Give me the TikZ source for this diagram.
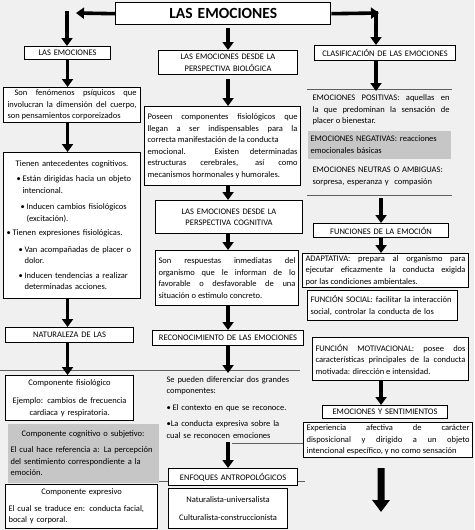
\documentclass[tikz,border=0pt]{standalone}
\usepackage{fontspec}
\setmainfont{Carlito}
\usepackage{tikz}
\usetikzlibrary{arrows.meta,positioning,calc}
\definecolor{pagegrey}{RGB}{240,240,240}
\definecolor{shadegrey}{RGB}{198,198,198}
\definecolor{rulegrey}{RGB}{95,95,95}
\newcommand{\boxfont}{\fontsize{8.5}{11.5}\selectfont}
\newcommand{\bul}{\makebox[6pt][l]{\textbullet}}

\begin{document}
\begin{tikzpicture}[
x=1pt,y=-1pt,
box/.style={draw,line width=1.1pt,fill=white,anchor=north west,inner xsep=3pt,inner ysep=1pt,font=\boxfont},
titlebox/.style={box,line width=1.4pt,align=center,font=\fontsize{15.5}{18}\selectfont\bfseries},
label/.style={box,align=center},
txt/.style={box,align=justify},
list/.style={box,align=left},
shade/.style={list,draw=none,fill=shadegrey},
bare/.style={list,draw=none,fill=none},
rule/.style={draw=rulegrey,line width=1pt},
arr/.style={-{Triangle[width=11pt,length=8pt]},line width=3.6pt},
bigarr/.style={-{Triangle[width=17pt,length=12pt]},line width=7pt}
]
\fill[pagegrey] (0,0) rectangle (474,530);
\useasboundingbox (0,0) rectangle (474,530);

% separator lines
\draw[rule] (0,370) -- (300,370);
\draw[rule] (307,89) -- (452,89);
\draw[rule] (307,195) -- (452,195);
\draw[rule] (232,443) -- (305,443);
\draw[rule] (158,481) -- (305,481);

% title
\node[titlebox,text width=209pt,minimum height=22pt] (title) at (115,2) {LAS EMOCIONES};
\coordinate (ltip) at (76,13);
\coordinate (rtip) at (379,13);
\coordinate (ltop) at (67,11);
\coordinate (rtop) at (376,11);

% left column
\node[label,text width=80pt,minimum height=13pt] (lasemo) at (24,46) {LAS EMOCIONES};
\node[txt,inner xsep=4pt,text width=129pt,minimum height=35pt] (fenom) at (3,87)
  {\hspace*{7pt}Son fenómenos psíquicos que\linebreak involucran la dimensión del cuerpo,\linebreak son pensamientos corporeizados};
\node[list,text width=131pt,minimum height=146pt] (antec) at (3,152)
  {\makebox[131pt]{Tienen antecedentes cognitivos.}\\[3.5pt]
   \hspace*{10pt}\bul Están dirigidas hacia un objeto\\
   \hspace*{16pt}intencional.\\[5pt]
   \hspace*{14pt}\bul Inducen cambios fisiológicos\\
   \hspace*{20pt}(excitación).\\[3pt]
   \bul Tienen expresiones fisiológicas.\\[5pt]
   \hspace*{12pt}\bul Van acompañadas de placer o\\
   \hspace*{18pt}dolor.\\[3pt]
   \hspace*{12pt}\bul Inducen tendencias a realizar\\
   \hspace*{18pt}determinadas acciones.};
\node[label,text width=122pt,minimum height=15pt] (natur) at (5,327) {NATURALEZA DE LAS};
\node[label,text width=122pt,minimum height=45pt] (fisio) at (5,375)
  {Componente fisiológico\\[7pt]Ejemplo: cambios de frecuencia\\cardiaca y respiratoria.};
\node[shade,text width=145pt,minimum height=59pt] (cogn) at (7,423)
  {\makebox[145pt]{Componente cognitivo o subjetivo:}\\[5pt]El cual hace referencia a: La percepción\\del sentimiento correspondiente a la\\emoción.};
\node[list,text width=146pt,minimum height=44pt] (expres) at (5,484)
  {\makebox[146pt]{Componente expresivo}\\[5pt]El cual se traduce en: conducta facial,\\bocal y corporal.};

% middle column
\node[label,text width=133pt,minimum height=24pt] (bio) at (158,50) {LAS EMOCIONES DESDE LA\\PERSPECTIVA BIOLÓGICA};
\node[txt,text width=150pt,minimum height=79pt] (poseen) at (144,106)
  {Poseen componentes fisiológicos que\linebreak llegan a ser indispensables para la\linebreak correcta manifestación de la conducta\newline emocional. Existen determinadas\linebreak estructuras cerebrales, así como\linebreak mecanismos hormonales y humorales.};
\node[label,text width=141pt,minimum height=33pt] (cognpers) at (155,200) {LAS EMOCIONES DESDE LA\\PERSPECTIVA COGNITIVA};
\node[txt,text width=137pt,minimum height=55pt] (resp) at (155,250)
  {Son respuestas inmediatas del\linebreak organismo que le informan de lo\linebreak favorable o desfavorable de una\linebreak situación o estimulo concreto.};
\node[label,text width=145pt,minimum height=15pt] (recon) at (152,330) {RECONOCIMIENTO DE LAS EMOCIONES};
\node[bare,text width=134pt,minimum height=68pt] (dosc) at (163,373)
  {Se pueden diferenciar dos grandes\\componentes:\\[5pt]
   \bul El contexto en que se reconoce.\\[5pt]
   \textbullet La conducta expresiva sobre la\\cual se reconocen emociones};
\node[label,text width=123pt,minimum height=17pt] (enfo) at (168,468) {ENFOQUES ANTROPOLÓGICOS};
\node[label,text width=113pt,minimum height=40pt] (natcul) at (168,488)
  {Naturalista-universalista\\[6pt]Culturalista-construccionista};

% right column
\node[label,text width=135pt,minimum height=15pt] (clasif) at (314,45) {CLASIFICACIÓN DE LAS EMOCIONES};
\node[txt,draw=none,fill=none,text width=137pt,minimum height=37pt] (pos) at (309,91)
  {EMOCIONES POSITIVAS: aquellas en\linebreak la que predominan la sensación de\linebreak placer o bienestar.};
\node[shade,text width=137pt,minimum height=28pt] (neg) at (307,130)
  {EMOCIONES NEGATIVAS: reacciones\\emocionales básicas};
\node[bare,text width=137pt,minimum height=26pt] (neu) at (309,163)
  {EMOCIONES NEUTRAS O AMBIGUAS:\\sorpresa, esperanza y\ \ compasión};
\node[label,text width=129pt,minimum height=14pt] (func) at (313,223) {FUNCIONES DE LA EMOCIÓN};
\node[txt,inner xsep=3pt,text width=160pt,minimum height=34pt] (adapt) at (302,253)
  {ADAPTATIVA: prepara al organismo para\linebreak ejecutar eficazmente la conducta exigida\linebreak por las condiciones ambientales.};
\node[list,text width=144pt,minimum height=30pt] (social) at (307,290)
  {FUNCIÓN SOCIAL: facilitar la interacción\\social,\ controlar\ la\ conducta\ de\ los};
\node[txt,inner xsep=3pt,text width=150pt,minimum height=43pt] (motiv) at (312,337)
  {FUNCIÓN MOTIVACIONAL: posee dos\linebreak características principales de la conducta\linebreak motivada: dirección e intensidad.};
\node[label,text width=119pt,minimum height=13pt] (emosent) at (322,405) {EMOCIONES Y SENTIMIENTOS};
\node[txt,inner xsep=3pt,text width=163pt,minimum height=35pt] (exper) at (303,422)
  {Experiencia afectiva de carácter\linebreak disposicional y dirigido a un objeto\linebreak intencional específico, y no como sensación};
\coordinate (endtip) at (381,512);

% arrows
\draw[arr] (title.west) -- (ltip);
\draw[arr] (title.east) -- (rtip);
\draw[arr] (ltop) -- (ltop |- lasemo.north);
\draw[arr] (rtop) -- (rtop |- clasif.north);
\draw[arr,shorten <=3pt] (bio.north |- title.south) -- (bio.north);
\draw[arr] (lasemo.south) -- (lasemo.south |- fenom.north);
\draw[arr] (lasemo.south |- fenom.south) -- (lasemo.south |- antec.north);
\draw[arr] (lasemo.south |- antec.south) -- (lasemo.south |- natur.north);
\draw[arr] (lasemo.south |- natur.south) -- (lasemo.south |- fisio.north);
\draw[arr,shorten <=4pt] (bio.south) -- (bio.south |- poseen.north);
\draw[arr] (bio.south |- poseen.south) -- (bio.south |- cognpers.north);
\draw[arr] (bio.south |- cognpers.south) -- (bio.south |- resp.north);
\draw[arr] (bio.south |- resp.south) -- (bio.south |- recon.north);
\draw[arr] (bio.south |- recon.south) -- (bio.south |- dosc.north);
\draw[arr] (bio.south |- dosc.south) -- (bio.south |- enfo.north);
\draw[arr] (rtop |- clasif.south) -- (rtop |- pos.north);
\draw[arr,shorten <=8pt] (func.north |- neu.south) -- (func.north);
\draw[arr] (func.south) -- (func.south |- adapt.north);
\draw[arr] (func.south |- motiv.south) -- (func.south |- emosent.north);
\draw[bigarr,shorten <=10pt] (func.south |- exper.south) -- (endtip);
\end{tikzpicture}
\end{document}
